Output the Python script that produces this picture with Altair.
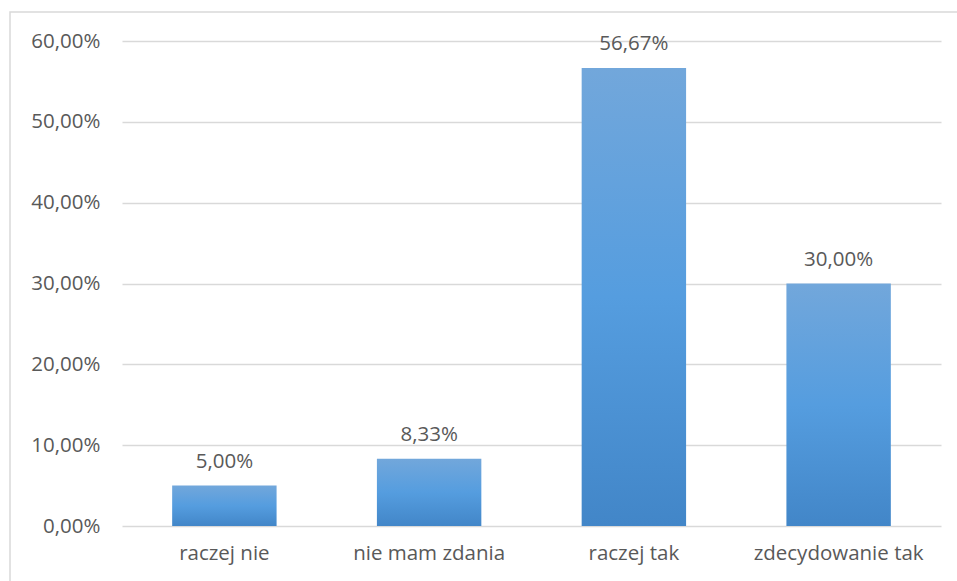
import altair as alt
import pandas as pd

categories = ["raczej nie", "nie mam zdania", "raczej tak", "zdecydowanie tak"]
values = [5.00, 8.33, 56.67, 30.00]
labels = ["5,00%", "8,33%", "56,67%", "30,00%"]

df = pd.DataFrame({"cat": categories, "val": values, "lab": labels})

W, H = 819, 485
FONT = "Open Sans"
TXT = "#595959"
FS = 20.5

x = alt.X("cat:N", sort=categories, title=None,
          scale=alt.Scale(paddingInner=0.49, paddingOuter=0.245),
          axis=alt.Axis(labelAngle=0, ticks=False, domain=False, labelPadding=17,
                        labelFontSize=FS, labelColor=TXT, labelFont=FONT))
y = alt.Y("val:Q", title=None,
          scale=alt.Scale(domain=[0, 60], nice=False),
          axis=alt.Axis(values=[0, 10, 20, 30, 40, 50, 60], ticks=False, domain=False,
                        labelExpr="replace(format(datum.value, '.2f'), '.', ',') + '%'",
                        labelPadding=22, labelFontSize=FS, labelColor=TXT, labelFont=FONT,
                        gridColor="#d9d9d9", gridWidth=1.3))

grad = alt.Gradient(gradient="linear", x1=0, x2=0, y1=0, y2=1,
                    stops=[alt.GradientStop(color="#72a7db", offset=0),
                           alt.GradientStop(color="#559ddf", offset=0.5),
                           alt.GradientStop(color="#4286c8", offset=1)])

base = alt.Chart(df)
bars = base.mark_bar(color=grad).encode(x=x, y=y)
text = base.mark_text(baseline="alphabetic", dy=-18, fontSize=FS, color=TXT, font=FONT).encode(
    x=alt.X("cat:N", sort=categories), y="val:Q", text="lab:N")

border = alt.Chart(pd.DataFrame({"a": [0]})).mark_rect(
    fill=None, stroke="#d9d9d9", strokeWidth=1.5).encode(
    x=alt.value(-112), x2=alt.value(860), y=alt.value(-29), y2=alt.value(580))

chart = alt.layer(border, bars, text).properties(
    width=W, height=H,
    autosize=alt.AutoSizeParams(type="none"),
    padding={"left": 122, "top": 41, "right": 16, "bottom": 55},
    background="white",
).configure_view(stroke=None)

chart.save("out.html", embed_options={"renderer": "svg", "actions": False})
